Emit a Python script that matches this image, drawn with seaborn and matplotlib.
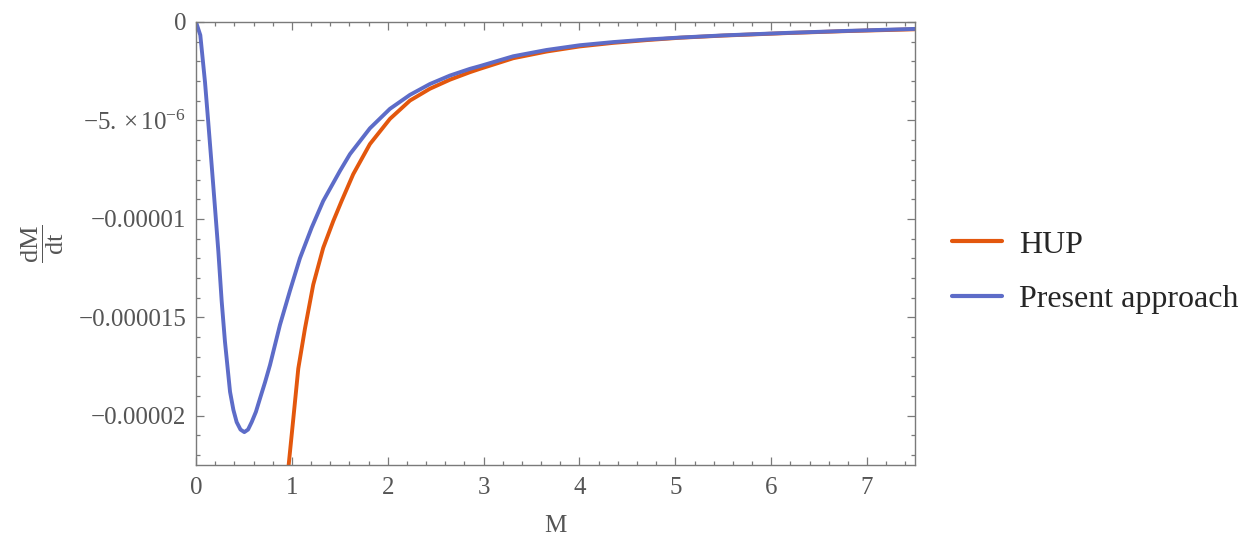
import matplotlib
matplotlib.use("Agg")
import matplotlib.pyplot as plt
import seaborn as sns
import pandas as pd
from matplotlib.ticker import FixedLocator, FixedFormatter, MultipleLocator

# ---- data (y values in units of 1e-6) ----
m_hup = [0.950, 1.015, 1.067, 1.137, 1.223, 1.327, 1.432, 1.519, 1.640, 1.814,
         2.023, 2.232, 2.440, 2.649, 2.857, 2.961, 3.309, 3.657, 4.004, 4.351,
         4.700, 5.047, 5.500, 6.180, 6.800, 7.500]
v_hup = [-23.3, -20.15, -17.60, -15.56, -13.34, -11.47, -10.11, -9.09, -7.73, -6.20,
         -4.92, -3.99, -3.39, -2.93, -2.55, -2.38, -1.84, -1.50, -1.24, -1.06,
         -0.92, -0.80, -0.69, -0.56, -0.46, -0.37]

m_present = [0.000, 0.045, 0.059, 0.094, 0.128, 0.164, 0.196, 0.233, 0.268, 0.302,
             0.355, 0.390, 0.424, 0.464, 0.504, 0.543, 0.581, 0.625, 0.667, 0.720,
             0.772, 0.876, 0.980, 1.084, 1.206,
             1.327, 1.502, 1.606, 1.814, 2.023, 2.232, 2.440, 2.649, 2.857, 2.961,
             3.309, 3.657, 4.004, 4.351, 4.700, 5.047, 5.500, 6.180, 6.800, 7.500]
v_present = [0.00, -0.67, -1.35, -3.06, -5.10, -7.31, -9.30, -11.64, -14.19, -16.23,
             -18.78, -19.70, -20.32, -20.70, -20.83, -20.70, -20.32, -19.80, -19.13, -18.30,
             -17.42, -15.38, -13.65, -12.00, -10.45,
             -9.09, -7.56, -6.71, -5.40, -4.41, -3.70, -3.15, -2.72, -2.38, -2.24,
             -1.74, -1.42, -1.18, -1.02, -0.89, -0.79, -0.68, -0.55, -0.45, -0.35]

series_names = ["HUP", "Present approach"]
series_colors = ["#E3570D", "#5D6CC8"]

x_ticks = [0, 1, 2, 3, 4, 5, 6, 7]
x_tick_labels = ["0", "1", "2", "3", "4", "5", "6", "7"]
y_ticks = [0, -5e-6, -1e-5, -1.5e-5, -2e-5]
y_tick_labels = ["0", r"$\mathrm{-5.}\times\mathrm{10}^{\mathrm{-6}}$",
                 "\u22120.00001", "\u22120.000015", "\u22120.00002"]

# ---- build long table ----
df = pd.concat([
    pd.DataFrame({"M": m_hup, "v": [v * 1e-6 for v in v_hup], "series": series_names[0]}),
    pd.DataFrame({"M": m_present, "v": [v * 1e-6 for v in v_present], "series": series_names[1]}),
], ignore_index=True)

sns.set_style("ticks")
plt.rcParams["font.family"] = ["Liberation Serif", "DejaVu Serif"]
plt.rcParams["mathtext.fontset"] = "custom"
plt.rcParams["mathtext.rm"] = "Liberation Serif"
plt.rcParams["mathtext.it"] = "Liberation Serif:italic"
plt.rcParams["mathtext.bf"] = "Liberation Serif:bold"

fig = plt.figure(figsize=(12.58, 5.54), dpi=100)
ax = fig.add_axes([196 / 1258, 1 - 465 / 554, (915 - 196) / 1258, (465 - 22) / 554])

sns.lineplot(data=df, x="M", y="v", hue="series", hue_order=series_names,
             palette=series_colors, estimator=None, sort=False, linewidth=2.8,
             ax=ax, legend=True)

ax.set_xlim(0, 7.5)
ax.set_ylim(-2.25e-5, 0)

frame_color = "#7a7a7a"
label_color = "#555555"
for s in ax.spines.values():
    s.set_color(frame_color)
    s.set_linewidth(1.0)
    s.set_visible(True)

ax.xaxis.set_major_locator(FixedLocator(x_ticks))
ax.xaxis.set_major_formatter(FixedFormatter(x_tick_labels))
ax.xaxis.set_minor_locator(MultipleLocator(0.2))
ax.yaxis.set_major_locator(FixedLocator(y_ticks))
ax.yaxis.set_major_formatter(FixedFormatter(y_tick_labels))
ax.yaxis.set_minor_locator(MultipleLocator(1e-6))

ax.tick_params(which="both", direction="in", top=True, right=True,
               color=frame_color, width=0.9)
ax.tick_params(which="major", length=5.5)
ax.tick_params(which="minor", length=3)
ax.tick_params(axis="x", which="major", labelsize=18, labelcolor=label_color, pad=9)
ax.tick_params(axis="y", which="major", labelsize=18, labelcolor=label_color, pad=7)

ax.set_xlabel("M", fontsize=18, color=label_color, labelpad=11)
ax.set_ylabel(r"$\dfrac{\mathrm{dM}}{\mathrm{dt}}$", fontsize=19, color=label_color, labelpad=9)

ax.grid(False)

handles, labels = ax.get_legend_handles_labels()
ax.legend_.remove()
leg = fig.legend(handles, labels, loc="center left",
                 bbox_to_anchor=(952 / 1258, 1 - 272 / 554),
                 frameon=False, fontsize=23, handlelength=1.55, handletextpad=0.55,
                 labelspacing=0.78, borderpad=0, borderaxespad=0)
for line in leg.get_lines():
    line.set_linewidth(3)

fig.savefig("out.png", dpi=100)
